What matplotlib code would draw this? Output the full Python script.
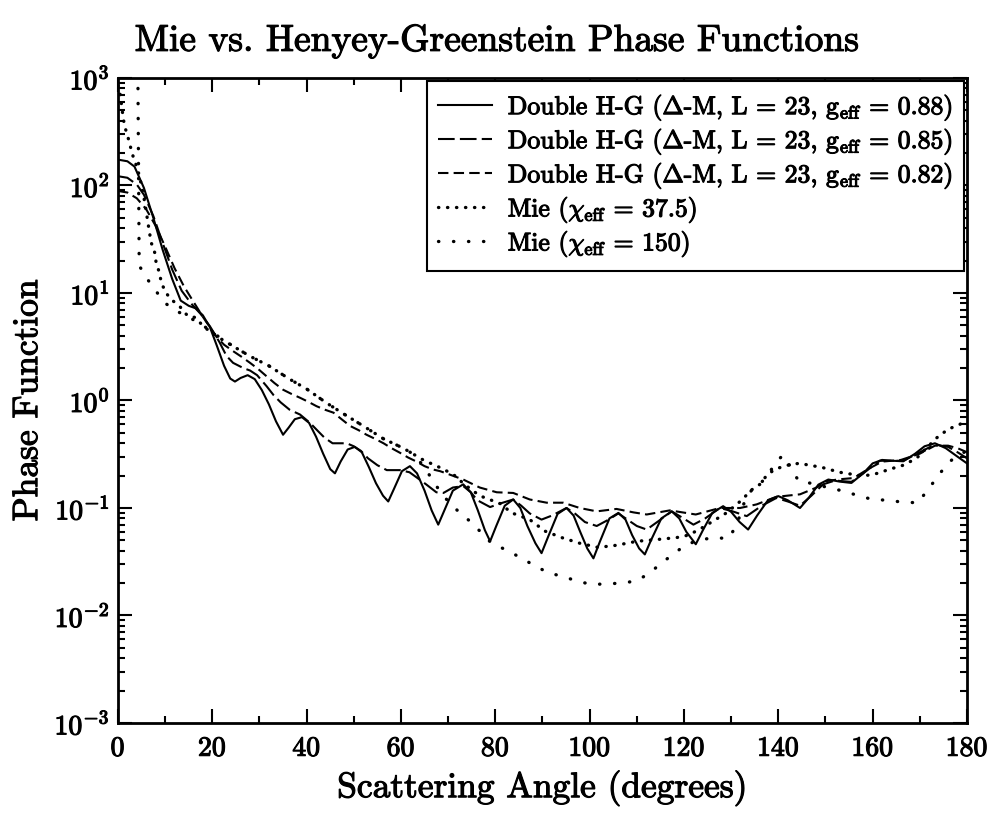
import matplotlib
matplotlib.use('Agg')
import matplotlib.pyplot as plt
from matplotlib import patheffects as pe
from matplotlib.ticker import LogLocator, MultipleLocator, NullFormatter

plt.rcParams['font.family'] = ['cmr10', 'DejaVu Serif']
plt.rcParams['mathtext.fontset'] = 'cm'
plt.rcParams['axes.formatter.use_mathtext'] = True
plt.rcParams['axes.unicode_minus'] = False

# Double H-G, g_eff = 0.88
ang1 = [0, 2, 3.5, 5.5, 7.5, 9.5, 11.5, 13.3, 15, 16.5, 18, 19.5, 21, 22.5, 23.8, 24.8,
        26, 27.5, 29, 30.5, 32, 33.5, 35, 36.2, 37.5, 39, 40.5, 42, 43.5, 45, 46,
        47.2, 48.7, 50.2, 51.7, 53.2, 54.7, 56.2, 57.3, 58.5, 60.2, 61.9, 63.4, 65, 66.5,
        67.9, 69.2, 71, 73.2, 74.8, 76.3, 77.8, 78.9, 80.2, 82, 83.8, 85.3, 86.8, 88.5,
        89.8, 91.2, 93.2, 95.1, 96.6, 98, 99.5, 100.8, 102.2, 104.2, 106.1, 107.6, 109,
        110.5, 111.7, 113, 115.2, 117.4, 119, 120.5, 122.5, 124, 126, 128.3, 130, 131.8,
        133.6, 135.5, 137.8, 140, 142, 144.6, 146.5, 148.5, 150.6, 153, 155.5, 158, 160,
        162, 164.2, 166.5, 169, 171, 173.2, 175.5, 178, 180]
hg88 = [174, 168, 150, 95, 50, 25, 13.5, 8.5, 7.6, 7.2, 6.2, 4.8, 3.2, 2.1, 1.6, 1.5,
        1.62, 1.72, 1.58, 1.25, 0.92, 0.64, 0.48, 0.56, 0.67, 0.70, 0.62, 0.46, 0.32, 0.23, 0.21,
        0.27, 0.35, 0.37, 0.33, 0.24, 0.17, 0.13, 0.115, 0.15, 0.22, 0.245, 0.21, 0.145, 0.095,
        0.07, 0.095, 0.145, 0.166, 0.14, 0.095, 0.062, 0.049, 0.068, 0.105, 0.12, 0.10, 0.068, 0.047,
        0.038, 0.054, 0.088, 0.10, 0.085, 0.06, 0.042, 0.034, 0.049, 0.08, 0.09, 0.078, 0.056,
        0.042, 0.037, 0.05, 0.08, 0.093, 0.08, 0.06, 0.046, 0.062, 0.09, 0.104, 0.092, 0.074,
        0.063, 0.085, 0.118, 0.129, 0.118, 0.10, 0.125, 0.165, 0.184, 0.176, 0.171, 0.21, 0.26,
        0.28, 0.275, 0.272, 0.32, 0.375, 0.40, 0.36, 0.30, 0.26]

# Double H-G, g_eff = 0.85
ang2 = [0, 2, 4, 5.5, 7.5, 9.5, 11.5, 13.5, 15.5, 17.5, 19.5, 21.5, 23, 24.4, 26.6, 28,
        29.5, 31.5, 33, 34.5, 36.4, 38.6, 40.7, 42.2, 43.8, 45.5, 48.5, 50, 51.5, 53, 55,
        57, 59.8, 61.8, 63.5, 65.4, 67.5, 69, 71, 73.2, 74.8, 76.2, 78.9, 81, 83.8, 85.5,
        87.3, 89.8, 92, 95.1, 97, 99, 101.5, 103.8, 106.1, 108, 110, 112.1, 114.5, 117.4,
        119.5, 122, 124.5, 127.6, 130, 133.3, 136.5, 139.6, 142, 144.6, 147, 149.5, 152,
        155.5, 158, 161.5, 164, 166.5, 170, 173.2, 176, 178, 180]
hg85 = [122, 118, 102, 82, 52, 29, 16.5, 10.5, 8.0, 6.4, 4.9, 3.5, 2.6, 2.24, 2.0, 1.9,
        1.72, 1.36, 1.12, 0.96, 0.82, 0.74, 0.62, 0.53, 0.45, 0.40, 0.40, 0.375, 0.34, 0.29, 0.25,
        0.225, 0.225, 0.215, 0.19, 0.165, 0.14, 0.138, 0.155, 0.16, 0.14, 0.118, 0.102, 0.11, 0.12, 0.105,
        0.089, 0.078, 0.085, 0.10, 0.088, 0.074, 0.068, 0.077, 0.089, 0.078, 0.068, 0.063, 0.075, 0.093,
        0.082, 0.07, 0.08, 0.10, 0.094, 0.084, 0.105, 0.124, 0.115, 0.105, 0.13, 0.166, 0.18,
        0.175, 0.21, 0.275, 0.275, 0.275, 0.33, 0.39, 0.37, 0.33, 0.29]

# Double H-G, g_eff = 0.82
ang3 = [0, 2, 4, 6, 8, 10, 12, 14, 16, 18, 20.9, 22.5, 24.4, 26.2, 28, 29.8, 31.5, 33.2,
        35, 36.8, 38.6, 40.4, 42.1, 43.9, 45.7, 47.4, 49.2, 51, 52.7, 54.5, 56.3, 58, 59.8,
        61.5, 63.3, 65, 66.8, 68.3, 70.4, 73.2, 76.7, 80.3, 83.8, 87.3, 90.9, 94.4, 97.9,
        101.5, 105.7, 109.3, 112.1, 117, 122.5, 127.6, 131.9, 135.4, 139.6, 144.6, 148.1,
        150.2, 153, 156, 159, 162, 166, 170, 173.2, 176, 178, 180]
hg82 = [89, 86, 76, 60, 42, 27, 17, 11.5, 8.3, 6.0, 3.9, 3.3, 2.88, 2.55, 2.24, 1.95, 1.68, 1.45,
        1.26, 1.15, 1.06, 0.97, 0.885, 0.82, 0.77, 0.67, 0.58, 0.53, 0.48, 0.44, 0.40, 0.36, 0.326,
        0.295, 0.27, 0.245, 0.228, 0.22, 0.204, 0.184, 0.155, 0.14, 0.138, 0.12, 0.112, 0.112, 0.10,
        0.093, 0.098, 0.091, 0.087, 0.095, 0.087, 0.10, 0.10, 0.108, 0.127, 0.134, 0.155,
        0.178, 0.185, 0.19, 0.23, 0.27, 0.28, 0.32, 0.38, 0.38, 0.36, 0.33]

# Mie, chi_eff = 37.5
ang4 = [0, 0.35, 0.7, 1.06, 1.4, 1.97, 2.8, 3.4, 4.1, 5, 5.7, 6.7, 7.1, 7.8, 8.1, 8.8, 9.2,
        10.2, 11.3, 13.1, 14.8, 16.6, 18, 21.6, 24.4, 28, 32, 36.5, 40, 44.2, 48.5, 52,
        56.3, 60.5, 64.7, 69, 71.4, 73.5, 76.7, 81, 83.5, 87.3, 90.5, 94.1, 97.9, 101.8,
        105.7, 110, 114.5, 118.4, 121, 124, 127.3, 129, 132, 134.4, 136.1, 137.5, 139.3,
        142, 144.3, 146.7, 149.5, 153, 158, 161, 163.7, 166.5, 169.3, 173.6, 176, 178.5, 180]
mie37 = [850, 754, 588, 441, 356, 298, 216, 174, 146, 100, 69, 36, 29, 23.7, 19, 15.4, 12.4,
         10, 8.7, 7.5, 6.1, 5.9, 4.9, 3.8, 3.2, 2.58, 2.1, 1.57, 1.28, 0.95, 0.72, 0.58,
         0.44, 0.36, 0.28, 0.23, 0.2, 0.165, 0.13, 0.11, 0.09, 0.078, 0.061, 0.053, 0.047, 0.043,
         0.045, 0.049, 0.051, 0.053, 0.056, 0.066, 0.081, 0.09, 0.116, 0.148, 0.166, 0.2, 0.23,
         0.25, 0.26, 0.25, 0.237, 0.215, 0.198, 0.21, 0.23, 0.25, 0.29, 0.45, 0.54, 0.6, 0.66]

# Mie, chi_eff = 150
ang5 = [0, 4.2, 4.5, 6.0, 7.8, 9.9, 12.4, 15.2, 18, 21.6, 24.4, 28, 32, 36.5, 40, 44.2,
        48.5, 52, 56.3, 60.5, 63, 65.5, 67.5, 70, 72.5, 75, 79.2, 82.7, 85.6, 88.4, 91.2,
        94.4, 97.2, 100.4, 103.6, 106.8, 110, 112.8, 115.3, 117.7, 120.2, 123, 126.2, 129.4,
        131.1, 133, 134.5, 136.1, 138, 139.6, 141, 142.5, 144.3, 147.5, 150.5, 154, 157, 160,
        163.3, 166.5, 169.7, 171.4, 173.6, 175.4, 177.5, 180]
mie150 = [30000, 1500, 18, 13.9, 10.8, 8.1, 6.8, 5.9, 5.0, 3.85, 3.2, 2.58, 2.1, 1.57, 1.28, 0.95,
          0.72, 0.58, 0.44, 0.36, 0.31, 0.22, 0.16, 0.115, 0.09, 0.073, 0.047, 0.040, 0.034, 0.029, 0.025,
          0.023, 0.021, 0.0194, 0.0197, 0.020, 0.021, 0.025, 0.031, 0.037, 0.045, 0.05, 0.053, 0.052,
          0.068, 0.12, 0.15, 0.166, 0.21, 0.27, 0.31, 0.245, 0.178, 0.168, 0.155, 0.143, 0.13, 0.12,
          0.118, 0.113, 0.112, 0.143, 0.19, 0.245, 0.3, 0.34]

labels = [r'Double H-G ($\Delta$-M, L = 23, g$_{\mathrm{eff}}$ = 0.88)',
          r'Double H-G ($\Delta$-M, L = 23, g$_{\mathrm{eff}}$ = 0.85)',
          r'Double H-G ($\Delta$-M, L = 23, g$_{\mathrm{eff}}$ = 0.82)',
          r'Mie ($\chi_{\mathrm{eff}}$ = 37.5)',
          r'Mie ($\chi_{\mathrm{eff}}$ = 150)']

heavy = [pe.withStroke(linewidth=0.8, foreground='k')]

fig = plt.figure(figsize=(9.93, 8.15), dpi=100)
ax = fig.add_axes([0.1188, 0.1129, 0.855, 0.7914])

ax.plot(ang1, hg88, color='k', lw=1.5, label=labels[0])
ax.plot(ang2, hg85, color='k', lw=1.5, ls=(0, (8, 2.5)), label=labels[1])
ax.plot(ang3, hg82, color='k', lw=1.5, ls=(0, (5, 2.5)), label=labels[2])
ax.plot(ang4, mie37, color='k', lw=2.4, ls=(0, (0.1, 2.6)), dash_capstyle='round', label=labels[3])
ax.plot(ang5, mie150, color='k', lw=2.4, ls=(0, (0.1, 4.4)), dash_capstyle='round', label=labels[4])

ax.set_yscale('log')
ax.set_xlim(0, 180)
ax.set_ylim(1e-3, 1e3)
ax.xaxis.set_major_locator(MultipleLocator(20))
ax.xaxis.set_minor_locator(MultipleLocator(10))
ax.yaxis.set_major_locator(LogLocator(base=10, numticks=10))
ax.yaxis.set_minor_locator(LogLocator(base=10, subs=range(2, 10), numticks=20))
ax.yaxis.set_minor_formatter(NullFormatter())
ax.tick_params(which='both', direction='in', top=True, right=True, width=1.5, labelsize=20)
ax.tick_params(which='major', length=10)
ax.tick_params(which='minor', length=5)
ax.tick_params(axis='x', which='major', pad=9)
ax.tick_params(axis='y', which='major', pad=6)
for s in ax.spines.values():
    s.set_linewidth(2)

t = fig.suptitle('Mie vs. Henyey-Greenstein Phase Functions', fontsize=27, x=0.5, y=0.972)
xl = ax.set_xlabel('Scattering Angle (degrees)', fontsize=25.5, labelpad=6)
yl = ax.set_ylabel('Phase Function', fontsize=25.5)
ax.yaxis.set_label_coords(-0.087, 0.5)

leg = ax.legend(loc='upper right', fontsize=18.5, frameon=True, fancybox=False,
                edgecolor='k', borderaxespad=0.1, handlelength=2.1, handletextpad=0.6,
                labelspacing=0.12, borderpad=0.45)
leg.get_frame().set_linewidth(1.5)
leg.get_frame().set_alpha(1)

fig.canvas.draw()
for txt in [t, xl, yl] + ax.get_xticklabels() + ax.get_yticklabels() + leg.get_texts():
    txt.set_path_effects(heavy)

plt.savefig('out.png', dpi=100)
